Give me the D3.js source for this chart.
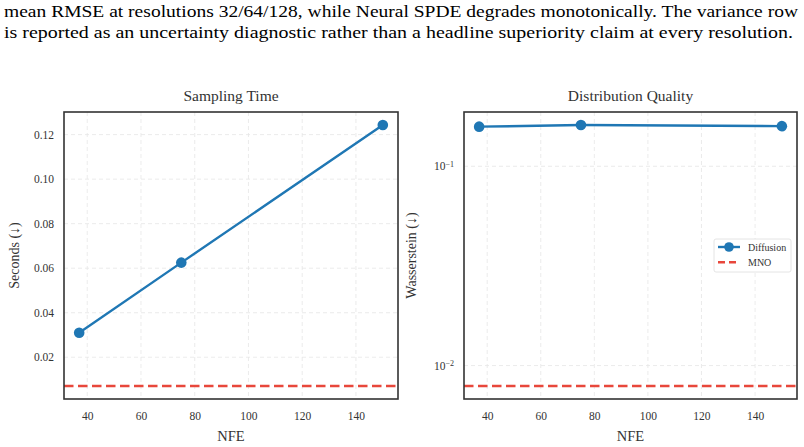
<!DOCTYPE html>
<meta charset="utf-8">
<style>
body { margin:0; background:#fff; }
svg text { font-family: "Liberation Serif", "DejaVu Serif", serif; fill:#333; }
.grid line { stroke:#e6e6e6; stroke-dasharray:4,3; stroke-width:0.8; }
.axis path, .axis line { display:none; }
.axis text { font-size:11.5px; fill:#333; font-family: "Liberation Serif", serif; }
</style>
<body>
<svg width="804" height="447" id="vis"></svg>
</body>
<script src="https://d3js.org/d3.v7.min.js"></script>
<script>
var paraLines = [
  "mean RMSE at resolutions 32/64/128, while Neural SPDE degrades monotonically. The variance row",
  "is reported as an uncertainty diagnostic rather than a headline superiority claim at every resolution."
];
var nfe = [37, 75, 150];
var seconds = [0.031, 0.0625, 0.1243];
var mnoSeconds = 0.0071;
var wasserstein = [0.158, 0.161, 0.159];
var mnoWasserstein = 0.0079;
var xTicks = [40, 60, 80, 100, 120, 140];
var secTicks = [0.02, 0.04, 0.06, 0.08, 0.10, 0.12];
var wTicks = [0.01, 0.1];

var blue = "#1f77b4", red = "#e8473b";
var svg = d3.select("#vis");

// paper text above the figure
svg.selectAll("text.para").data(paraLines).enter().append("text")
  .attr("class", "para")
  .attr("x", 4)
  .attr("y", function(d, i){ return 16.5 + i * 21; })
  .attr("textLength", function(d, i){ return i == 0 ? 794 : 789; })
  .attr("lengthAdjust", "spacingAndGlyphs")
  .style("font-size", "17.5px")
  .style("fill", "#000")
  .text(function(d){ return d; });

function margins(lo, hi) { var p = (hi - lo) * 0.05; return [lo - p, hi + p]; }

function panel(opt) {
  var g = svg.append("g");
  var x = d3.scaleLinear().domain(margins(d3.min(nfe), d3.max(nfe))).range([opt.left, opt.right]);
  var y = opt.y;

  g.append("g").attr("class", "grid").selectAll("line.gx").data(xTicks).enter().append("line")
    .attr("x1", function(d){ return x(d); }).attr("x2", function(d){ return x(d); })
    .attr("y1", opt.top).attr("y2", opt.bottom);
  g.append("g").attr("class", "grid").selectAll("line.gy").data(opt.yTicks).enter().append("line")
    .attr("y1", function(d){ return y(d); }).attr("y2", function(d){ return y(d); })
    .attr("x1", opt.left).attr("x2", opt.right);

  g.append("g").attr("class", "axis")
    .attr("transform", "translate(0," + (opt.bottom + 9) + ")")
    .call(d3.axisBottom(x).tickValues(xTicks).tickSize(0).tickPadding(4));

  var yAxis = d3.axisLeft(y).tickValues(opt.yTicks).tickSize(0).tickPadding(8);
  if (!opt.log) yAxis.tickFormat(d3.format(".2f"));
  else yAxis.tickFormat(function(){ return ""; });
  var ya = g.append("g").attr("class", "axis")
    .attr("transform", "translate(" + (opt.left - 2) + ",0)")
    .call(yAxis);
  if (opt.log) {
    ya.selectAll(".tick text").each(function(d){
      var t = d3.select(this);
      t.append("tspan").text("10");
      t.append("tspan").attr("dy", "-0.45em").style("font-size", "8px")
        .text("\u2212" + Math.round(-Math.log10(d)));
    });
  }

  // MNO baseline
  g.append("line")
    .attr("x1", opt.left).attr("x2", opt.right)
    .attr("y1", y(opt.mno)).attr("y2", y(opt.mno))
    .attr("stroke", red).attr("stroke-width", 2.6).attr("stroke-dasharray", "9.5,4.5");

  var line = d3.line().x(function(d){ return x(d[0]); }).y(function(d){ return y(d[1]); });
  var pts = d3.zip(nfe, opt.vals);
  g.append("path").datum(pts)
    .attr("fill", "none").attr("stroke", blue).attr("stroke-width", 2.4)
    .attr("d", line);
  g.selectAll("circle.pt").data(pts).enter().append("circle")
    .attr("class", "pt")
    .attr("cx", function(d){ return x(d[0]); })
    .attr("cy", function(d){ return y(d[1]); })
    .attr("r", 5.3).attr("fill", blue);

  g.append("rect")
    .attr("x", opt.left).attr("y", opt.top)
    .attr("width", opt.right - opt.left).attr("height", opt.bottom - opt.top)
    .attr("fill", "none").attr("stroke", "#333").attr("stroke-width", 1.6);

  g.append("text")
    .attr("x", (opt.left + opt.right) / 2).attr("y", 101)
    .attr("text-anchor", "middle").style("font-size", "15.5px")
    .text(opt.title);
  g.append("text")
    .attr("x", (opt.left + opt.right) / 2).attr("y", 441)
    .attr("text-anchor", "middle").style("font-size", "14.5px")
    .text("NFE");
  g.append("text")
    .attr("transform", "translate(" + opt.ylabX + "," + ((opt.top + opt.bottom) / 2) + ") rotate(-90)")
    .attr("text-anchor", "middle").style("font-size", "14px")
    .text(opt.ylabel);
  return g;
}

var plotTop = 112, plotBottom = 399;
var allSec = seconds.concat([mnoSeconds]);
panel({
  left: 64, right: 398, top: plotTop, bottom: plotBottom,
  y: d3.scaleLinear().domain(margins(d3.min(allSec), d3.max(allSec))).range([plotBottom, plotTop]),
  yTicks: secTicks, vals: seconds, mno: mnoSeconds,
  title: "Sampling Time", ylabel: "Seconds (\u2193)", ylabX: 19, log: false
});

var allW = wasserstein.concat([mnoWasserstein]).map(Math.log10);
var wDom = margins(d3.min(allW), d3.max(allW)).map(function(v){ return Math.pow(10, v); });
var rightPanel = panel({
  left: 464, right: 797, top: plotTop, bottom: plotBottom,
  y: d3.scaleLog().domain(wDom).range([plotBottom, plotTop]),
  yTicks: wTicks, vals: wasserstein, mno: mnoWasserstein,
  title: "Distribution Quality", ylabel: "Wasserstein (\u2193)", ylabX: 416, log: true
});

// legend
var lg = rightPanel.append("g").attr("transform", "translate(714,239)");
lg.append("rect").attr("width", 77).attr("height", 33).attr("rx", 2)
  .attr("fill", "#fff").attr("stroke", "#ddd").attr("stroke-width", 0.8);
var legendItems = ["Diffusion", "MNO"];
legendItems.forEach(function(name, i){
  var yy = 8 + i * 15.3;
  var ln = lg.append("line").attr("x1", 4).attr("x2", 26).attr("y1", yy).attr("y2", yy)
    .attr("stroke-width", 2.4);
  if (i == 0) {
    ln.attr("stroke", blue);
    lg.append("circle").attr("cx", 15).attr("cy", yy).attr("r", 4.8).attr("fill", blue);
  } else {
    ln.attr("stroke", red).attr("stroke-dasharray", "7,4");
  }
  lg.append("text").attr("x", 34).attr("y", yy + 3.5).style("font-size", "10px").text(name);
});
</script>
